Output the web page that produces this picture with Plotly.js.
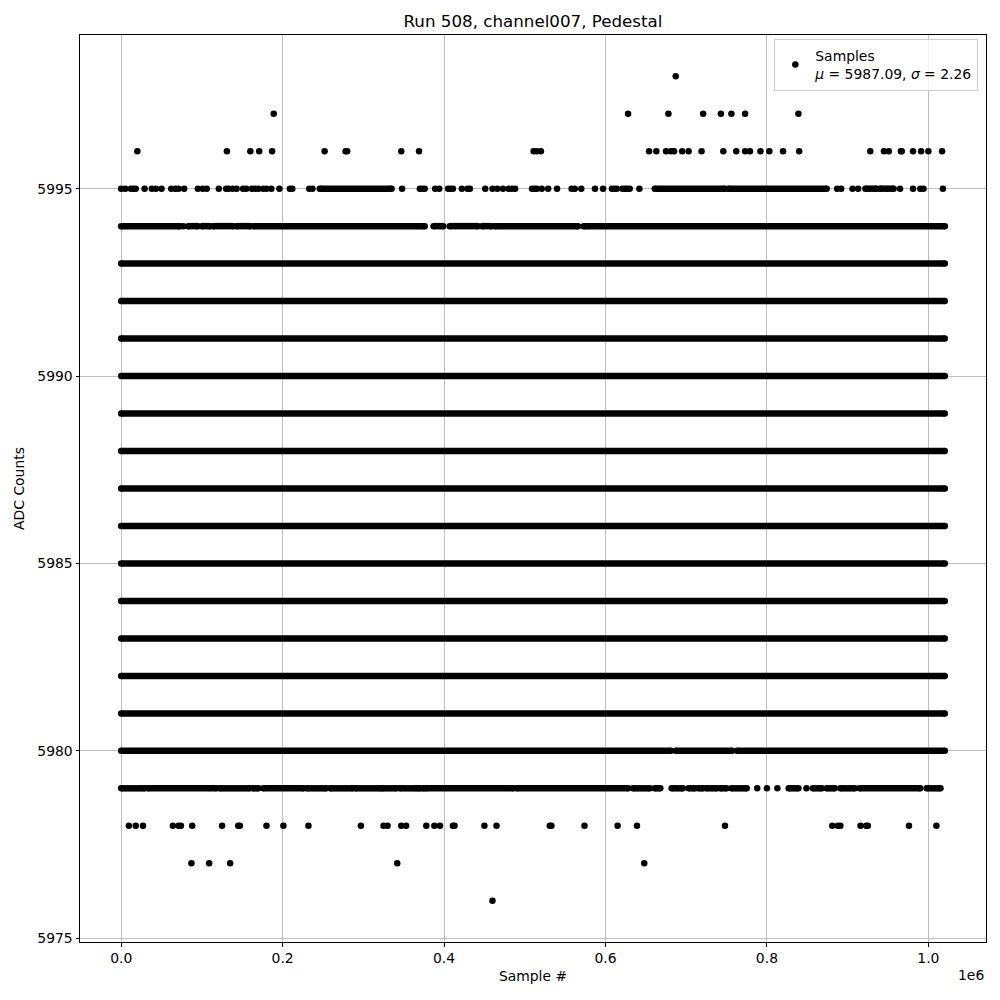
<!DOCTYPE html>
<html>
<head>
<meta charset="utf-8">
<script src="https://cdn.plot.ly/plotly-3.0.1.min.js"></script>
<style>html,body{margin:0;padding:0;background:#fff;}#chart{width:1000px;height:1000px;}</style>
</head>
<body>
<div id="chart"></div>
<script>
// ---- Data (sample index, ADC level) ----
const N_SAMPLES = 1020400;           // last sample index
const denseLevels = [5981, 5982, 5983, 5984, 5985, 5986, 5987, 5988, 5989, 5990, 5991, 5992, 5993]; // filled over whole run

// continuous runs of samples [start, end] on semi-dense levels
const runs5994 = [[0,73000],[83000,95000],[100000,110000],[114000,139000],[143000,160000],[164000,376000],[387000,399000],[407000,442000],[447000,459000],[463000,566000],[573000,1020400]];
const runs5995 = [[246000,335000],[661000,748000],[752000,874000],[922000,936000],[940000,957000]];
const runs5980 = [[0,681000],[687000,757000],[763000,1020400]];
const runs5979 = [[0,29000],[33000,118000],[122000,159000],[163000,170000],[176000,226000],[230000,254000],[259000,287000],[290000,321000],[323000,341000],[345000,366000],[368000,376000],[378000,486000],[490000,628000],[634000,655000],[661000,668000],[682000,696000],[703000,711000],[715000,721000],[725000,738000],[742000,750000],[756000,775000],[827000,839000],[857000,868000],[874000,884000],[891000,909000],[915000,990000],[998000,1015000]];

// isolated samples per level
const pts5998 = [687000];
const pts5997 = [189000,628000,678000,721000,743000,756000,773000,839000];
const pts5996 = [20000,131000,160000,171000,187000,252000,278000,280000,347000,369000,511000,515000,520000,654000,663000,675000,681000,685000,695000,703000,719000,746000,762000,773000,779000,792000,803000,820000,840000,928000,945000,951000,966000,967000,981000,991000,1000000,1017000];
const pts5995 = [0,5000,12000,15000,18000,29000,38000,43000,50000,62000,67000,71000,78000,95000,101000,106000,121000,130000,133000,138000,143000,151000,155000,162000,166000,170000,176000,180000,186000,196000,209000,212000,233000,237000,348000,370000,373000,376000,389000,394000,405000,408000,411000,422000,429000,432000,451000,460000,466000,473000,480000,484000,488000,509000,512000,515000,521000,529000,540000,558000,562000,570000,587000,597000,608000,611000,614000,621000,624000,627000,630000,642000,887000,892000,906000,913000,965000,981000,990000,994000,1018000];
const pts5994 = [77000];
const pts5979 = [788000,800000,813000,849000];
const pts5978 = [9500,18000,27000,64000,71000,74000,88000,125000,145000,147000,180000,201000,232000,297000,325000,330000,347000,353000,378000,388000,395000,411000,413000,450000,465000,531000,533000,574000,615000,639000,748000,881000,888000,891000,916000,923000,925000,976000,1010000];
const pts5977 = [87000,109000,135000,342000,648000];
const pts5976 = [460000];

const xTickVals = [0, 200000, 400000, 600000, 800000, 1000000];
const xTickText = ['0.0', '0.2', '0.4', '0.6', '0.8', '1.0'];
const yTickVals = [5975, 5980, 5985, 5990, 5995];
const yTickText = ['5975', '5980', '5985', '5990', '5995'];

const meanADC = '5987.09', sigmaADC = '2.26';

// ---- Build traces ----
const runGroups = [[5994, runs5994], [5995, runs5995], [5980, runs5980], [5979, runs5979]];
denseLevels.forEach(l => runGroups.push([l, [[0, N_SAMPLES]]]));
const lx = [], ly = [], mx = [], my = [];
runGroups.forEach(([lvl, runs]) => runs.forEach(([a, b]) => {
  lx.push(a, b, null); ly.push(lvl, lvl, null);
  mx.push(a, b); my.push(lvl, lvl);
}));
const pointGroups = [[5998, pts5998], [5997, pts5997], [5996, pts5996], [5995, pts5995], [5994, pts5994],
                     [5979, pts5979], [5978, pts5978], [5977, pts5977], [5976, pts5976]];
pointGroups.forEach(([lvl, xs]) => xs.forEach(x => { mx.push(x); my.push(lvl); }));

const FONT = 'DejaVu Sans';
const MS = 6.5;

const traces = [
  { type: 'scatter', mode: 'lines', x: lx, y: ly, connectgaps: false,
    line: { color: '#000000', width: MS }, showlegend: false, hoverinfo: 'skip' },
  { type: 'scatter', mode: 'markers', x: mx, y: my,
    marker: { color: '#000000', size: MS },
    name: 'Samples<br><i>μ</i> = ' + meanADC + ', <i>σ</i> = ' + sigmaADC, showlegend: true }
];

const axisCommon = {
  showgrid: true, gridcolor: '#b0b0b0', gridwidth: 0.8, zeroline: false,
  showline: true, mirror: true, linecolor: '#000000', linewidth: 1,
  ticks: 'outside', ticklen: 3.5, tickwidth: 1, tickcolor: '#000000',
  tickfont: { family: FONT, size: 13.9, color: '#000000' }
};

const layout = {
  width: 1000, height: 1000,
  margin: { l: 80, r: 14, t: 35, b: 58 },
  paper_bgcolor: '#ffffff', plot_bgcolor: '#ffffff',
  font: { family: FONT, color: '#000000' },
  title: { text: 'Run 508, channel007, Pedestal', font: { family: FONT, size: 16.7, color: '#000000' },
           xref: 'paper', x: 0.5, xanchor: 'center', yref: 'container', y: 0.979, yanchor: 'middle' },
  xaxis: Object.assign({}, axisCommon, {
    range: [-0.05 * N_SAMPLES, 1.05 * N_SAMPLES], tickmode: 'array', tickvals: xTickVals, ticktext: xTickText,
    title: { text: 'Sample #', font: { family: FONT, size: 13.9, color: '#000000' }, standoff: 6 }
  }),
  yaxis: Object.assign({}, axisCommon, {
    range: [5974.9, 5999.1], tickmode: 'array', tickvals: yTickVals, ticktext: yTickText,
    title: { text: 'ADC Counts', font: { family: FONT, size: 13.9, color: '#000000' }, standoff: 9 }
  }),
  legend: { x: 0.9915, xanchor: 'right', y: 0.9956, yanchor: 'top',
            bgcolor: 'rgba(255,255,255,0.8)', bordercolor: '#cccccc', borderwidth: 1,
            font: { family: FONT, size: 13.9, color: '#000000' } },
  annotations: [{ text: '1e6', xref: 'paper', yref: 'paper', x: 1, y: -0.036, xanchor: 'right', yanchor: 'middle',
                  showarrow: false, font: { family: FONT, size: 13.9, color: '#000000' } }],
  hovermode: false
};

Plotly.newPlot('chart', traces, layout, { staticPlot: true, displayModeBar: false });
</script>
</body>
</html>
